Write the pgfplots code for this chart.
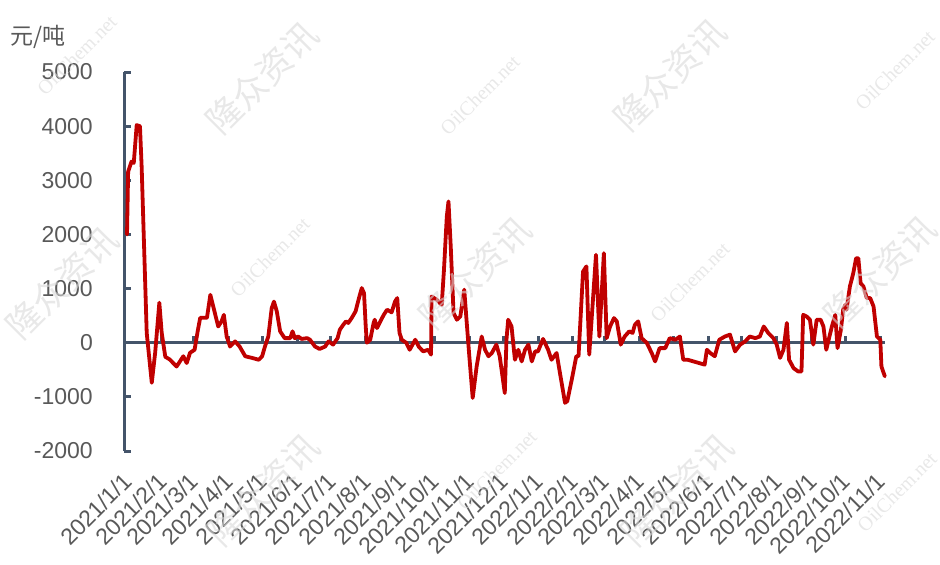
\documentclass[border=0pt]{standalone}
\usepackage{fontspec}
\setmainfont{Liberation Sans}
\newfontfamily\cjk{Noto Sans CJK SC}
\newfontfamily\wmserif{Liberation Serif}
\usepackage{pgfplots}
\pgfplotsset{compat=1.18}
\definecolor{axiscol}{HTML}{44546A}
\definecolor{redline}{HTML}{C00000}
\definecolor{labelgray}{HTML}{595959}
\definecolor{wmgray}{HTML}{D9D9D9}
\begin{document}
\begin{tikzpicture}
\pgfplotsset{
  common/.style={
    scale only axis, width=380.3pt, height=189.5pt,
    xmin=-2.5, xmax=673, ymin=-2000, ymax=5000,
    clip=false,
  }
}
% zero line with month ticks
\begin{axis}[common,
  axis x line*=middle, axis y line=none,
  xtick={31,59,90,120,151,181,212,243,273,304,334,365,396,424,455,485,516,546,577,608,638,669},
  xticklabel={\phantom{0}},
  xtick align=inside,
  major tick length=3.5pt,
  x tick style={axiscol, line width=1.5pt},
  x axis line style={axiscol, line width=1.5pt},
]
\end{axis}
% data axis
\begin{axis}[common,
  axis y line*=left, axis x line*=bottom,
  x axis line style={draw=none},
  y axis line style={axiscol, line width=1.5pt},
  ytick={-2000,-1000,0,1000,2000,3000,4000,5000},
  yticklabels={-2000,-1000,0,1000,2000,3000,4000,5000},
  ytick align=inside,
  major tick length=3.5pt,
  y tick style={axiscol, line width=1.5pt},
  x tick style={draw=none},
  xtick={0,31,59,90,120,151,181,212,243,273,304,334,365,396,424,455,485,516,546,577,608,638,669},
  xticklabels={2021/1/1,2021/2/1,2021/3/1,2021/4/1,2021/5/1,2021/6/1,2021/7/1,2021/8/1,2021/9/1,2021/10/1,2021/11/1,2021/12/1,2022/1/1,2022/2/1,2022/3/1,2022/4/1,2022/5/1,2022/6/1,2022/7/1,2022/8/1,2022/9/1,2022/10/1,2022/11/1},
  every tick label/.append style={font=\fontsize{11.5}{13.8}\selectfont, text=labelgray},
  xticklabel style={xshift=0.5pt, yshift=-13pt, rotate=45, anchor=east, inner sep=0pt},
  yticklabel style={anchor=east, inner sep=0pt, xshift=-15.5pt},
]
\addplot[redline, line width=1.9pt, line join=round, line cap=round] coordinates {
(0,2000)(1,3160)(4,3345)(6,3320)(8.6,4020)(11.5,4000)(13,3250)(17.5,180)(22,-740)(25,-185)(28.7,740)(30.8,185)(34,-260)(38,-310)(44,-440)(50,-250)(53,-375)(56,-185)(60,-130)(63,240)(65,460)(71,460)(74,885)(78,550)(81,300)(84,395)(86,515)(88.5,115)(91.5,-70)(96,25)(100,-70)(105,-250)(111,-280)(117,-315)(120,-250)(122.5,-70)(125.5,115)(128.5,640)(130.5,760)(133,580)(136,210)(140,85)(145,85)(147,210)(149,85)(152,115)(155,70)(160,85)(162.5,55)(167,-70)(171,-115)(176,-70)(179,25)(183,-35)(187,85)(189,240)(192,330)(194.5,395)(196.5,365)(199.5,455)(203,580)(206,825)(208.5,1010)(210.5,915)(212,300)(213,0)(216,55)(219,365)(220,425)(222,270)(225,395)(228,515)(231,610)(233.5,580)(235,560)(238,760)(240,825)(242,180)(244,55)(248,0)(251,-130)(256,55)(259,-70)(263,-160)(267.5,-130)(270,-220)(270.5,855)(275,795)(279.5,700)(281.5,1350)(284,2330)(285.5,2610)(287.5,1780)(290,550)(293,425)(296,485)(299.5,980)(301.5,425)(304,-250)(307,-1020)(310.5,-440)(315,115)(318,-130)(321,-250)(324,-190)(328,-35)(331,-250)(335.5,-930)(337,55)(338.5,425)(341.5,300)(344.5,-315)(347.5,-130)(350.5,-345)(353.5,-130)(356.5,-35)(359.5,-345)(362.5,-160)(365,-160)(369.5,70)(374,-130)(377,-315)(381.5,-190)(384.5,-560)(389,-1110)(391,-1080)(395,-680)(399,-250)(401,-250)(405,1315)(408,1410)(410.5,-220)(414,855)(416.5,1625)(419.5,115)(423.5,1655)(426,85)(429,300)(432.5,455)(435,395)(438.5,-35)(442,115)(446,210)(449,180)(451,330)(454,395)(457,85)(461.5,0)(466,-190)(469,-345)(473,-100)(478,-100)(482,85)(487,55)(491,115)(494,-315)(498,-315)(503,-345)(508,-375)(513,-405)(515,-130)(518,-190)(522,-250)(526,55)(531,115)(535.5,150)(540,-160)(544.5,-35)(549,25)(553,115)(558,85)(562,115)(565.5,300)(569.5,180)(574,85)(577,-35)(580,-280)(583,-130)(586,365)(588,-315)(592,-470)(596,-530)(599,-530)(600.5,515)(603.5,485)(606.5,425)(609.5,-35)(612.5,425)(616,425)(618.5,300)(621,-130)(626,300)(629,515)(631,-100)(634,240)(636,610)(638,700)(639,610)(642,1040)(645,1285)(647.5,1560)(649.5,1560)(651.5,1100)(654,1040)(657,825)(660,825)(663,670)(666,115)(669,55)(670,-440)(673,-620)
};
\end{axis}
% unit label
\node[anchor=west, inner sep=0pt, text=labelgray, font=\cjk\fontsize{11.5}{13.8}\selectfont] at (-57.1pt,207pt) {元/吨};
% watermarks
\begin{scope}[every node/.style={rotate=45, text=wmgray, text opacity=0.6}]
\foreach \x/\y in {68.9/186.5, 272.9/188, -31.1/84, 175.4/89, 377.9/89.5, 69.4/-19.5, 276.4/-19.5}
  \node[font=\cjk\fontsize{17.5}{20}\selectfont] at (\x pt,\y pt) {隆众资讯};
\foreach \x/\y in {-23.6/198, 177.9/178, 385.4/190.5, 72.9/97, 282.9/84.5, 186.4/-9.5, 386.4/-20.5}
  \node[font=\wmserif\fontsize{10}{12}\selectfont] at (\x pt,\y pt) {OilChem.net};
\end{scope}
\pgfresetboundingbox
\useasboundingbox (-62.1pt,-56.5pt) rectangle (407.9pt,225.5pt);
\end{tikzpicture}
\end{document}
